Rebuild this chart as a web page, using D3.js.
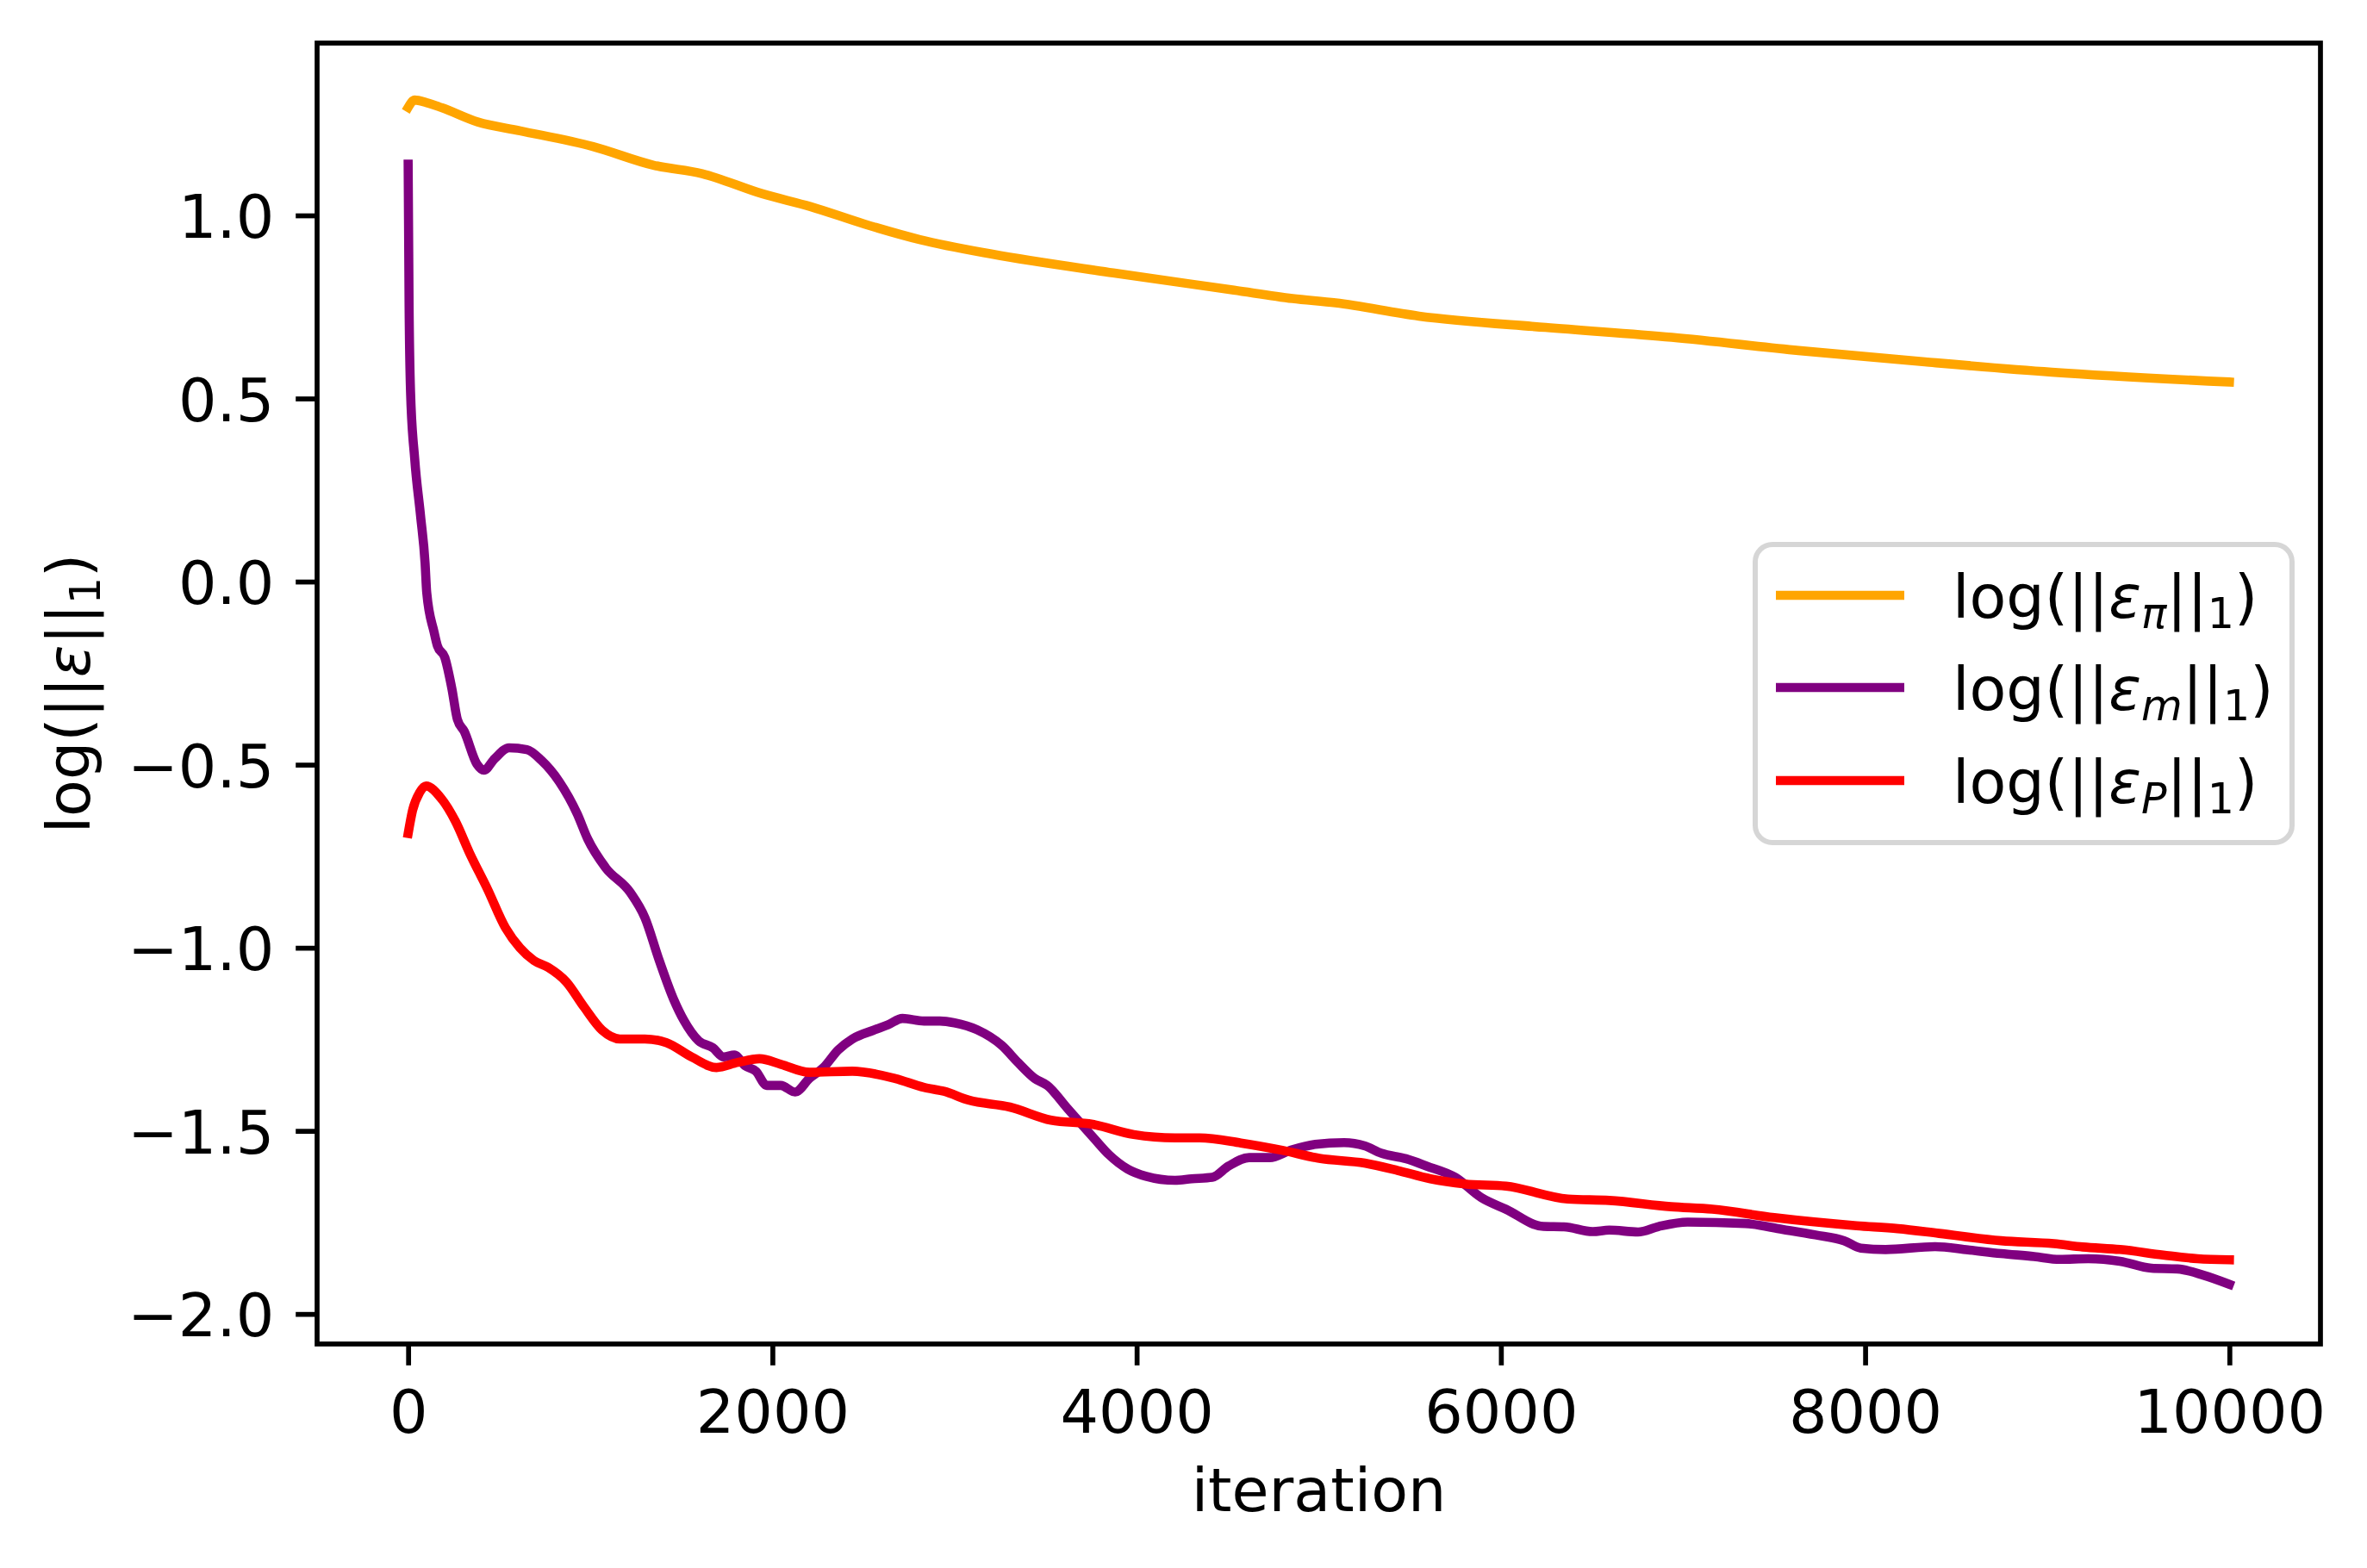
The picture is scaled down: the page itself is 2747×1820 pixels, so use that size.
<!DOCTYPE html>
<html>
<head>
<meta charset="utf-8">
<script src="https://cdn.jsdelivr.net/npm/d3@7"></script>
<style>
  html, body { margin: 0; padding: 0; background: #fff; }
  svg { display: block; }
  text { font-family: "DejaVu Sans", sans-serif; }
</style>
</head>
<body>
<svg id="chart" width="2747" height="1820"></svg>
<script>
// ---- data ----
const piIter = [0,36,100,185,383,615,1015,1348,1614,1945,2210,2508,2809,3208,3871,4534,4856,5092,5550,6245,6938,7634,8328,9024,10000];
const piVals = [1.295,1.315,1.308,1.294,1.255,1.231,1.188,1.137,1.114,1.059,1.024,0.976,0.934,0.894,0.843,0.796,0.773,0.761,0.725,0.694,0.667,0.631,0.600,0.572,0.545];

const mIter = [0,5,13,36,68,93,102,142,161,201,240,270,308,377,416,476,554,652,731,829,928,986,1084,1221,1300,1379,1458,1516,1595,1673,1732,1791,1850,1909,1969,2046,2125,2203,2281,2361,2439,2556,2636,2714,2832,2920,3000,3124,3260,3350,3441,3509,3621,3690,3769,3848,3950,4052,4211,4302,4415,4505,4618,4731,4845,4980,5139,5252,5343,5478,5592,5750,5892,6028,6233,6346,6504,6595,6753,6867,7025,7342,7546,7727,7885,7976,8112,8384,8565,8746,8928,9068,9225,9399,9572,9715,9857,10000];
const mVals = [1.140,0.760,0.520,0.335,0.180,0.050,-0.030,-0.137,-0.176,-0.207,-0.292,-0.376,-0.409,-0.498,-0.515,-0.483,-0.454,-0.459,-0.488,-0.546,-0.634,-0.703,-0.781,-0.850,-0.918,-1.035,-1.141,-1.200,-1.254,-1.273,-1.298,-1.293,-1.322,-1.337,-1.376,-1.376,-1.394,-1.357,-1.327,-1.279,-1.249,-1.225,-1.210,-1.193,-1.200,-1.200,-1.205,-1.224,-1.267,-1.314,-1.357,-1.376,-1.439,-1.478,-1.522,-1.565,-1.604,-1.624,-1.635,-1.631,-1.627,-1.596,-1.573,-1.573,-1.553,-1.537,-1.532,-1.541,-1.561,-1.576,-1.596,-1.627,-1.682,-1.714,-1.761,-1.762,-1.775,-1.771,-1.776,-1.761,-1.749,-1.753,-1.769,-1.784,-1.800,-1.820,-1.824,-1.816,-1.825,-1.835,-1.843,-1.851,-1.849,-1.856,-1.875,-1.877,-1.894,-1.919];

const pIter = [0,24,63,98,180,259,338,435,535,613,691,770,868,966,1065,1163,1300,1418,1556,1693,1810,1929,2046,2203,2439,2674,2832,2942,3078,3304,3531,3758,3984,4211,4346,4572,4799,5003,5252,5433,5613,5802,6028,6368,6595,6934,7161,7501,7953,8180,8406,8746,9036,9194,9399,9636,9825,10000];
const pVals = [-0.688,-0.625,-0.576,-0.558,-0.591,-0.654,-0.742,-0.839,-0.946,-1.000,-1.035,-1.054,-1.093,-1.162,-1.225,-1.249,-1.249,-1.259,-1.298,-1.327,-1.313,-1.303,-1.318,-1.340,-1.337,-1.357,-1.381,-1.392,-1.416,-1.435,-1.471,-1.482,-1.510,-1.519,-1.519,-1.533,-1.553,-1.575,-1.588,-1.608,-1.631,-1.645,-1.651,-1.686,-1.690,-1.707,-1.714,-1.737,-1.759,-1.767,-1.780,-1.800,-1.808,-1.817,-1.824,-1.839,-1.849,-1.852];

const xTicks = [0, 2000, 4000, 6000, 8000, 10000];
const yTicks = [-2.0, -1.5, -1.0, -0.5, 0.0, 0.5, 1.0];
const seriesNames = ["pi", "m", "P"];
const seriesColors = ["orange", "purple", "red"];
const xLabel = "iteration";

// ---- layout ----
const svg = d3.select("#chart");
const L = 368, R = 2693, T = 50, B = 1560;
const FS = 70;
const LW = 10.6;
const AXW = 5.7;
const TICK = 24.8;

const x = d3.scaleLinear().domain([-500, 10500]).range([L, R]);
const y = d3.scaleLinear().domain([-2.082, 1.4706]).range([B, T]);

svg.append("rect").attr("width", 2747).attr("height", 1820).attr("fill", "#fff");

svg.append("clipPath").attr("id", "clip")
  .append("rect").attr("x", L).attr("y", T).attr("width", R - L).attr("height", B - T);

const series = [
  { name: "pi", iter: piIter, vals: piVals },
  { name: "m", iter: mIter, vals: mVals },
  { name: "P", iter: pIter, vals: pVals }
];

const line = d3.line().x(d => x(d[0])).y(d => y(d[1])).curve(d3.curveMonotoneX);

const gLines = svg.append("g").attr("clip-path", "url(#clip)");
series.forEach((s, i) => {
  const pts = s.iter.map((v, k) => [v, s.vals[k]]);
  gLines.append("path")
    .attr("d", line(pts))
    .attr("fill", "none")
    .attr("stroke", seriesColors[i])
    .attr("stroke-width", LW)
    .attr("stroke-linejoin", "round")
    .attr("stroke-linecap", "square");
});

// axes
const fmtY = v => (v < 0 ? "\u2212" : "") + Math.abs(v).toFixed(1);

const gx = svg.append("g").attr("transform", `translate(0,${B})`)
  .call(d3.axisBottom(x).tickValues(xTicks).tickFormat(d3.format("d")).tickSize(TICK).tickPadding(28));
const gy = svg.append("g").attr("transform", `translate(${L},0)`)
  .call(d3.axisLeft(y).tickValues(yTicks).tickFormat(fmtY).tickSize(TICK).tickPadding(25));

[gx, gy].forEach(g => {
  g.select(".domain").remove();
  g.selectAll(".tick line").attr("stroke", "#000").attr("stroke-width", AXW);
  g.selectAll(".tick text").attr("fill", "#000").attr("font-size", FS)
    .attr("font-family", "DejaVu Sans, sans-serif");
});
gy.selectAll(".tick text").attr("dy", "0.365em");

// frame
svg.append("rect").attr("x", L).attr("y", T).attr("width", R - L).attr("height", B - T)
  .attr("fill", "none").attr("stroke", "#000").attr("stroke-width", AXW)
  .attr("stroke-linejoin", "miter");

// x label
svg.append("text").attr("x", (L + R) / 2).attr("y", 1754)
  .attr("text-anchor", "middle").attr("font-size", FS).attr("fill", "#000").text(xLabel);

// helper to write math-like label
function mathLabel(sel, sub) {
  const SUBS = FS * 0.7;
  const SH = 12;
  sel.append("tspan").text("log(||");
  sel.append("tspan").attr("font-style", "italic").text("\u03b5");
  if (sub) {
    sel.append("tspan").attr("font-style", "italic").attr("font-size", SUBS).attr("dy", SH).text(sub);
    sel.append("tspan").attr("dy", -SH).text("||");
  } else {
    sel.append("tspan").text("||");
  }
  sel.append("tspan").attr("font-size", SUBS).attr("dy", SH).text("1");
  sel.append("tspan").attr("dy", -SH).text(")");
}

// y label
const yl = svg.append("text")
  .attr("transform", `translate(104,${(T + B) / 2}) rotate(-90)`)
  .attr("text-anchor", "middle").attr("font-size", FS).attr("fill", "#000");
mathLabel(yl, null);

// legend
const lg = svg.append("g");
lg.append("rect").attr("x", 2037).attr("y", 632).attr("width", 623).attr("height", 346)
  .attr("rx", 20).attr("ry", 20)
  .attr("fill", "#fff").attr("fill-opacity", 0.8)
  .attr("stroke", "#cccccc").attr("stroke-opacity", 0.8).attr("stroke-width", 6);

const subs = ["\u03c0", "m", "P"];
const rowY = [691, 798, 906];
seriesNames.forEach((n, i) => {
  lg.append("line").attr("x1", 2061).attr("x2", 2210).attr("y1", rowY[i]).attr("y2", rowY[i])
    .attr("stroke", seriesColors[i]).attr("stroke-width", LW);
  const t = lg.append("text").attr("x", 2266).attr("y", rowY[i] + 26)
    .attr("font-size", FS).attr("fill", "#000");
  mathLabel(t, subs[i]);
});
</script>
</body>
</html>
